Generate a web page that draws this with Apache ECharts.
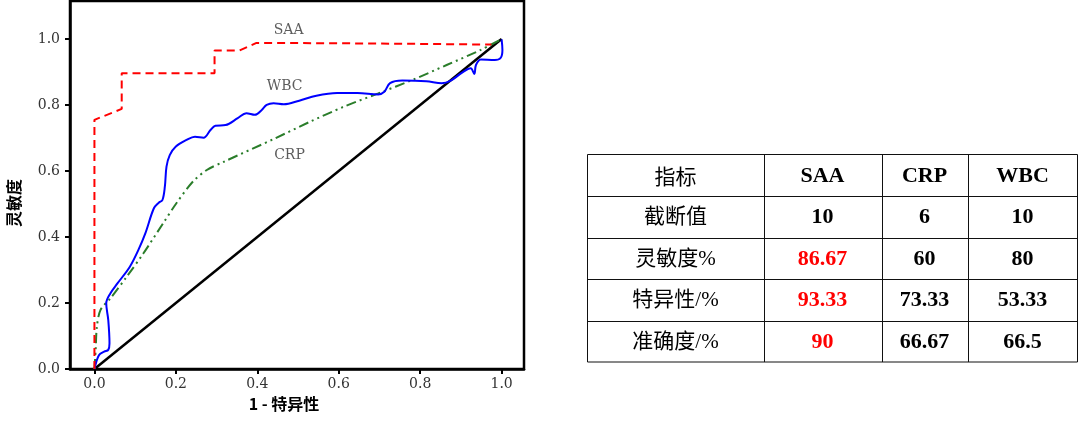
<!DOCTYPE html>
<html>
<head>
<meta charset="utf-8">
<script src="https://cdn.jsdelivr.net/npm/echarts@6/dist/echarts.min.js"></script>
<style>
html,body{margin:0;padding:0;background:#fff;}
#chart{width:1080px;height:421px;}
</style>
</head>
<body>
<div id="chart"></div>
<script>
// ---------- data ----------
const tickValues = [0, 0.2, 0.4, 0.6, 0.8, 1.0];
const diagX = [0, 1];
const diagY = [0, 1];
const saaX = [0, 0, 0.067, 0.067, 0.295, 0.295, 0.356, 0.398, 0.60, 0.80, 0.975];
const saaY = [0, 0.755, 0.788, 0.896, 0.896, 0.965, 0.965, 0.988, 0.987, 0.985, 0.983];
const crpX = [0, 0.003, 0.006, 0.015, 0.0385, 0.079, 0.12, 0.168, 0.2, 0.242, 0.276, 0.318, 0.444, 0.529, 0.613, 0.697, 0.781, 0.865, 0.949, 1.0];
const crpY = [0, 0.058, 0.128, 0.179, 0.213, 0.279, 0.35, 0.44, 0.50, 0.568, 0.603, 0.628, 0.699, 0.749, 0.795, 0.835, 0.876, 0.921, 0.967, 1.0];
const wbcX = [0, 0.011, 0.024, 0.034, 0.037, 0.034, 0.029, 0.039, 0.057, 0.087, 0.108, 0.125, 0.146, 0.158, 0.167, 0.173, 0.177, 0.185, 0.200, 0.226, 0.247, 0.268, 0.285, 0.297, 0.322, 0.352, 0.373, 0.394, 0.411, 0.423, 0.440, 0.465, 0.503, 0.545, 0.596, 0.646, 0.697, 0.712, 0.726, 0.756, 0.815, 0.853, 0.874, 0.903, 0.924, 0.933, 0.937, 0.949, 0.983, 0.998, 1.002, 1.0];
const wbcY = [0, 0.042, 0.053, 0.058, 0.078, 0.148, 0.199, 0.229, 0.260, 0.310, 0.361, 0.411, 0.487, 0.504, 0.512, 0.553, 0.613, 0.648, 0.674, 0.694, 0.704, 0.701, 0.724, 0.737, 0.739, 0.760, 0.775, 0.770, 0.785, 0.800, 0.805, 0.802, 0.813, 0.828, 0.836, 0.836, 0.832, 0.840, 0.866, 0.874, 0.872, 0.866, 0.873, 0.898, 0.911, 0.894, 0.921, 0.938, 0.936, 0.943, 0.967, 0.999];
const curveNames = ['SAA', 'WBC', 'CRP'];
const curveLabelX = [0.477, 0.467, 0.479];
const curveLabelY = [1.027, 0.857, 0.647];

const tableHeader = ['指标', 'SAA', 'CRP', 'WBC'];
const rowLabels = ['截断值', '灵敏度%', '特异性/%', '准确度/%'];
const saaVals = ['10', '86.67', '93.33', '90'];
const crpVals = ['6', '60', '73.33', '66.67'];
const wbcVals = ['10', '80', '53.33', '66.5'];
const saaRed = [false, true, true, true];

// ---------- helpers ----------
const zip = (xs, ys) => xs.map((x, i) => [x, ys[i]]);

// table layout
const tLeft = 587.5, tTop = 154.5;
const colW = [176, 118, 86, 110];
const rowH = 41.5;
const nRows = 5;
const colStarts = [];
{ let acc = tLeft; colW.forEach(w => { colStarts.push(acc); acc += w; }); }
const tWidth = colW.reduce((a, b) => a + b, 0);
const tHeight = rowH * nRows;

const graphics = [];
graphics.push({ type: 'rect', shape: { x: tLeft, y: tTop, width: tWidth, height: tHeight }, style: { fill: null, stroke: '#111', lineWidth: 1 } });
for (let c = 1; c < colW.length; c++) {
  graphics.push({ type: 'line', shape: { x1: Math.round(colStarts[c]) + 0.5, y1: tTop, x2: Math.round(colStarts[c]) + 0.5, y2: tTop + tHeight }, style: { stroke: '#111', lineWidth: 1 } });
}
for (let r = 1; r < nRows; r++) {
  const y = Math.round(tTop + r * rowH) + 0.5;
  graphics.push({ type: 'line', shape: { x1: tLeft, y1: y, x2: tLeft + tWidth, y2: y }, style: { stroke: '#111', lineWidth: 1 } });
}
const cjkFont = '"Noto Sans CJK SC", sans-serif';
const serifFont = '"Liberation Serif", "Times New Roman", serif';
function cellText(r, c, text, opts) {
  graphics.push({
    type: 'text',
    x: colStarts[c] + colW[c] / 2,
    y: tTop + r * rowH + rowH / 2 + 1,
    style: Object.assign({ text: text, align: 'center', verticalAlign: 'middle', fill: '#000' }, opts)
  });
}
tableHeader.forEach((h, c) => {
  if (c === 0) cellText(0, 0, h, { font: 'normal 21px ' + cjkFont });
  else cellText(0, c, h, { font: 'bold 22px ' + serifFont });
});
rowLabels.forEach((lab, i) => {
  cellText(i + 1, 0, lab, { font: 'normal 21px ' + '"Liberation Serif", "Noto Sans CJK SC", serif' });
  cellText(i + 1, 1, saaVals[i], { font: 'bold 22px ' + serifFont, fill: saaRed[i] ? '#ff0000' : '#000' });
  cellText(i + 1, 2, crpVals[i], { font: 'bold 22px ' + serifFont });
  cellText(i + 1, 3, wbcVals[i], { font: 'bold 22px ' + serifFont });
});

const tickFont = '"DejaVu Serif", serif';

const chart = echarts.init(document.getElementById('chart'), null, { renderer: 'canvas' });
chart.setOption({
  animation: false,
  backgroundColor: '#fff',
  grid: { left: 70, right: 556, top: 1, bottom: 52, show: true, borderColor: '#000', borderWidth: 2.5, backgroundColor: 'transparent' },
  xAxis: {
    type: 'value', min: -0.06, max: 1.055,
    name: '1 - 特异性', nameLocation: 'middle', nameGap: 27,
    nameTextStyle: { fontFamily: cjkFont, fontWeight: 'bold', fontSize: 16, color: '#000', padding: [0, 26, 0, 0] },
    axisLine: { show: true, onZero: false, lineStyle: { color: '#000', width: 2.5 } },
    axisTick: { show: true, inside: false, length: 5, lineStyle: { color: '#000', width: 2 }, customValues: tickValues },
    axisLabel: { customValues: tickValues, formatter: v => v.toFixed(1), fontFamily: tickFont, fontSize: 14, color: '#333', margin: 8 },
    splitLine: { show: false }
  },
  yAxis: {
    type: 'value', min: 0, max: 1.115,
    name: '灵敏度', nameLocation: 'middle', nameGap: 48, nameRotate: 90,
    nameTextStyle: { fontFamily: cjkFont, fontWeight: 'bold', fontSize: 16, color: '#000', padding: [0, 36, 0, 0] },
    axisLine: { show: true, onZero: false, lineStyle: { color: '#000', width: 2.5 } },
    axisTick: { show: true, inside: false, length: 5, lineStyle: { color: '#000', width: 2 }, customValues: tickValues },
    axisLabel: { customValues: tickValues, formatter: v => v.toFixed(1), fontFamily: tickFont, fontSize: 14, color: '#333', margin: 10 },
    splitLine: { show: false }
  },
  series: [
    { type: 'line', name: 'diag', data: zip(diagX, diagY), showSymbol: false, lineStyle: { color: '#000', width: 2.5 }, z: 2 },
    { type: 'line', name: 'CRP', data: zip(crpX, crpY), showSymbol: false, smooth: 0.3, lineStyle: { color: '#2a7d2a', width: 2, type: [10, 4, 2, 4, 2, 4] }, z: 3 },
    { type: 'line', name: 'WBC', data: zip(wbcX, wbcY), showSymbol: false, smooth: 0.35, lineStyle: { color: '#0000ff', width: 2 }, z: 4 },
    { type: 'line', name: 'SAA', data: zip(saaX, saaY), showSymbol: false, lineStyle: { color: '#ff0000', width: 2, type: [8, 5] }, z: 5 },
    {
      type: 'scatter', name: 'labels', symbolSize: 0, silent: true,
      data: curveNames.map((n, i) => ({ value: [curveLabelX[i], curveLabelY[i]], name: n })),
      label: { show: true, position: 'inside', formatter: p => p.name, fontFamily: tickFont, fontSize: 14, color: '#333' }
    }
  ],
  graphic: graphics
});
</script>
</body>
</html>
